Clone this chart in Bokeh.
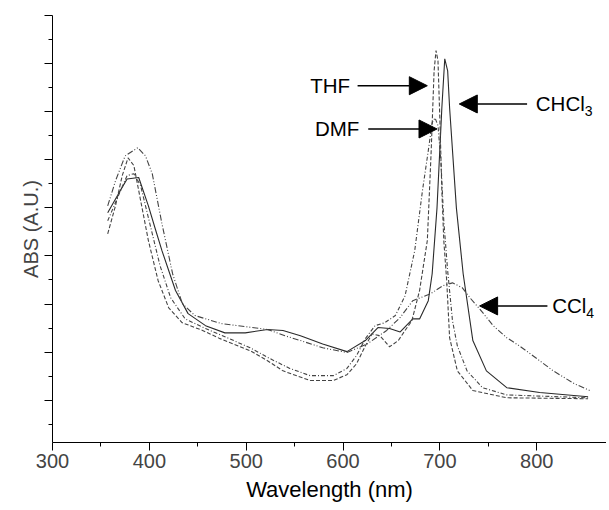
from bokeh.plotting import figure
from bokeh.models import Range1d, FixedTicker, Label, Arrow, NormalHead, Title
from bokeh.embed import file_html
from bokeh.resources import INLINE

# ---- data ----
chcl3_wl = [357, 368, 377, 389, 399, 406, 413, 427, 440, 458, 478, 499, 522, 538, 556, 579, 604, 623, 636, 648, 659,
            672, 679, 688, 692, 697, 702, 705, 708, 710, 717, 724, 734, 748, 769, 803, 853]
chcl3_abs = [4.90, 5.29, 5.60, 5.63, 5.04, 4.57, 4.11, 3.28, 2.80, 2.55, 2.40, 2.40, 2.47, 2.45, 2.34, 2.17, 2.01, 2.24, 2.51, 2.49, 2.42,
             2.69, 2.69, 3.07, 3.63, 5.00, 7.08, 8.10, 7.85, 7.08, 5.00, 3.63, 2.24, 1.61, 1.26, 1.16, 1.07]

thf_wl = [357, 365, 372, 378, 384, 389, 399, 409, 420, 434, 455, 473, 504, 522, 538, 566, 590, 604, 614, 623, 630, 638, 648, 657,
          664, 671, 679, 687, 691, 694, 696, 698, 700, 702, 704, 707, 710, 718, 734, 769, 853]
thf_abs = [4.46, 5.04, 5.67, 6.04, 5.88, 5.36, 4.32, 3.49, 2.92, 2.61, 2.45, 2.28, 2.03, 1.82, 1.61, 1.41, 1.41, 1.53, 1.76, 2.13, 2.38, 2.34, 2.11, 2.24,
           2.45, 2.65, 3.28, 4.32, 6.19, 7.85, 8.27, 8.06, 6.81, 5.36, 4.32, 3.49, 2.30, 1.61, 1.20, 1.05, 1.03]

dmf_wl = [357, 368, 377, 384, 391, 401, 411, 422, 437, 458, 478, 504, 525, 545, 566, 590, 604, 614, 623, 633, 643, 654, 664,
          674, 682, 688, 692, 695, 698, 701, 704, 708, 713, 718, 728, 744, 769, 853]
dmf_abs = [4.73, 5.25, 5.67, 5.71, 5.46, 4.63, 3.80, 3.13, 2.69, 2.49, 2.32, 2.09, 1.86, 1.66, 1.51, 1.51, 1.66, 1.93, 2.28, 2.55, 2.61, 2.76, 3.17,
           4.11, 5.36, 6.19, 6.77, 6.87, 6.71, 5.98, 4.73, 3.69, 2.65, 2.13, 1.61, 1.26, 1.11, 1.05]

ccl4_wl = [357, 365, 375, 388, 396, 403, 413, 424, 434, 447, 475, 499, 522, 540, 556, 579, 604, 625, 645, 659, 672, 690, 703,
           713, 723, 731, 741, 755, 769, 782, 793, 817, 839, 855]
ccl4_abs = [5.04, 5.56, 6.08, 6.25, 6.08, 5.71, 4.67, 3.63, 3.01, 2.76, 2.59, 2.53, 2.47, 2.34, 2.24, 2.09, 1.99, 2.17, 2.45, 2.72, 3.07, 3.21, 3.38,
            3.44, 3.34, 3.13, 2.90, 2.55, 2.30, 2.13, 1.97, 1.61, 1.34, 1.20]

x_ticks = [300, 400, 500, 600, 700, 800]
x_minor = [350, 450, 550, 650, 750]
y_ticks = [1, 2, 3, 4, 5, 6, 7, 8, 9]
y_minor = [0.5, 1.5, 2.5, 3.5, 4.5, 5.5, 6.5, 7.5, 8.5]

# annotation labels: text, subscript, text x, text y, arrow tail x, arrow tip x
ann_text = ["THF", "DMF", "CHCl", "CCl"]
ann_sub = ["", "", "3", "4"]
ann_tx = [566, 571, 799, 816]
ann_y = [7.54, 6.64, 7.16, 2.96]
ann_tail = [615, 626, 790, 811]
ann_tip = [687, 697, 720, 741]

FONT = "Liberation Sans"

p = figure(width=606, height=510, output_backend="svg", toolbar_location=None,
           x_range=Range1d(300, 872), y_range=Range1d(0.12, 9.0),
           min_border_left=52, min_border_right=0, min_border_top=15, min_border_bottom=68)
p.outline_line_color = None
p.xgrid.grid_line_color = None
p.ygrid.grid_line_color = None
p.background_fill_color = "white"
p.border_fill_color = "white"

p.line(chcl3_wl, chcl3_abs, line_color="#2a2a2a", line_width=1.1)
p.line(thf_wl, thf_abs, line_color="#444444", line_width=1.1, line_dash="4 2")
p.line(dmf_wl, dmf_abs, line_color="#444444", line_width=1.1, line_dash="4 2 1 2")
p.line(ccl4_wl, ccl4_abs, line_color="#444444", line_width=1.1, line_dash="6 2 1 2 1 2")

xa = p.xaxis[0]
xa.ticker = FixedTicker(ticks=x_ticks, minor_ticks=x_minor)
xa.major_label_text_font = FONT
xa.major_label_text_font_size = "20px"
xa.major_label_standoff = 3
xa.major_tick_out = 8
xa.major_tick_in = 0
xa.minor_tick_out = 4
xa.minor_tick_in = 0
xa.axis_line_color = "black"
xa.major_tick_line_color = "black"
xa.minor_tick_line_color = "black"

# x axis title (slightly left of the frame centre, as in the original)
p.add_layout(Title(text="Wavelength (nm)", align="center", offset=-14, standoff=9,
                   text_font=FONT, text_font_size="22px", text_font_style="normal",
                   text_color="black"), "below")

ya = p.yaxis[0]
ya.ticker = FixedTicker(ticks=y_ticks, minor_ticks=y_minor)
ya.axis_label = "ABS (A.U.)"
ya.axis_label_text_font = FONT
ya.axis_label_text_font_size = "20px"
ya.axis_label_text_font_style = "normal"
ya.axis_label_standoff = 3
ya.major_label_overrides = {t: "" for t in y_ticks}
ya.major_label_text_font_size = "1px"
ya.major_label_standoff = 0
ya.major_tick_out = 8
ya.major_tick_in = 0
ya.minor_tick_out = 4
ya.minor_tick_in = 0
ya.axis_line_color = "black"

for t, s, tx, ty, tail, tip in zip(ann_text, ann_sub, ann_tx, ann_y, ann_tail, ann_tip):
    lab = Label(x=tx, y=ty, text=t, text_font=FONT, text_font_size="20.5px",
                text_baseline="middle", text_align="left", text_color="black")
    p.add_layout(lab)
    if s:
        w = 49 if t == "CHCl" else 34
        sub = Label(x=tx, y=ty, x_offset=w, y_offset=-7, text=s, text_font=FONT, text_font_size="14px",
                    text_baseline="middle", text_align="left", text_color="black")
        p.add_layout(sub)
    p.add_layout(Arrow(x_start=tail, y_start=ty, x_end=tip, y_end=ty, line_color="black", line_width=1.5,
                       end=NormalHead(size=18, fill_color="black", line_color="black")))

open("out.html", "w").write(file_html(p, INLINE))
